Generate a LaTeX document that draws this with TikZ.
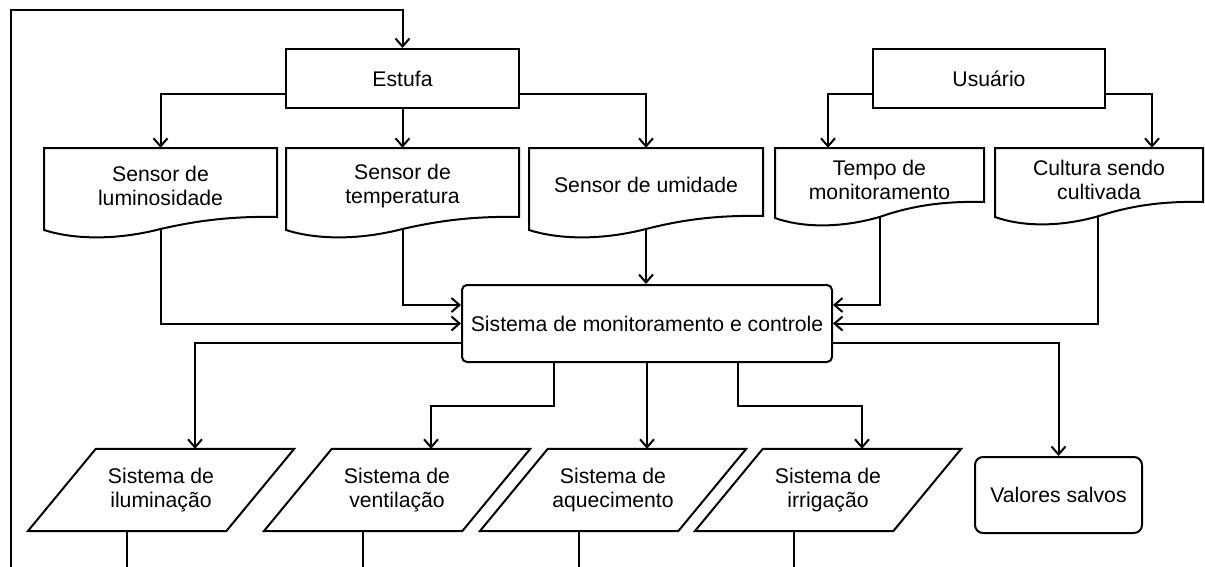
\documentclass[tikz,border=0pt]{standalone}
\usepackage{fontspec}
\setmainfont{Liberation Sans}
\usetikzlibrary{arrows.meta}
\pgfdeclarelayer{bg}\pgfdeclarelayer{mid}\pgfsetlayers{bg,mid,main}
% document outline: L R T Br Bl
\newcommand\docpath[5]{%
  \filldraw[shp] (#1,#3) -- (#2,#3) -- (#2,#4)
   .. controls ({#2-0.2*(#2-#1)},{#4-1}) and ({#1+0.65*(#2-#1)},{#4+4}) .. ({#1+0.5*(#2-#1)},{#5-1})
   .. controls ({#1+0.3*(#2-#1)},{#5+11}) and ({#1+0.12*(#2-#1)},{#5+9}) .. (#1,#5) -- cycle;}
\tikzset{
  ln/.style={line width=2pt, line join=miter},
  arr/.style={ln, -{Straight Barb[length=8pt,width=14pt]}},
  shp/.style={ln, draw=black, fill=white},
  boxs/.style={draw, fill=white, ln, align=center, inner sep=0pt},
  rbox/.style={boxs, rounded corners=5pt},
  doc/.style={align=center, inner sep=0pt},
  para/.style={align=center, inner sep=0pt, minimum width=198pt, minimum height=82pt},
}
\begin{document}
\begin{tikzpicture}[x=1pt,y=-1pt, font=\fontsize{21.2}{24}\selectfont]
\useasboundingbox (0,0) rectangle (1205,566);

% top boxes
\node[boxs, minimum width=233pt, minimum height=59pt] (estufa) at (402.5,78.5) {Estufa};
\node[boxs, minimum width=232pt, minimum height=59pt] (usr) at (989,78.5) {Usuário};

% documents
\node[doc, minimum width=233pt, minimum height=76pt] (d1) at (160.5,186) {Sensor de\\luminosidade};
\node[doc, minimum width=233pt, minimum height=76pt] (d2) at (402.5,186) {Sensor de\\temperatura};
\node[doc, minimum width=234pt, minimum height=74pt] (d3) at (646,185) {Sensor de umidade};
\node[doc, minimum width=209pt, minimum height=64pt] (d4) at (879.5,180) {Tempo de\\monitoramento};
\node[doc, minimum width=208pt, minimum height=64pt] (d5) at (1099,180) {Cultura sendo\\cultivada};

% central box
\node[rbox, minimum width=370pt, minimum height=77pt] (ctrl) at (647,323.5) {Sistema de monitoramento e controle};

% parallelograms
\node[para] (p1) at (161,490) {Sistema de\\iluminação};
\node[para] (p2) at (397,490) {Sistema de\\ventilação};
\node[para] (p3) at (613,490) {Sistema de\\aquecimento};
\node[para] (p4) at (828,490) {Sistema de\\irrigação};

\node[boxs, rounded corners=8pt, minimum width=167pt, minimum height=76pt] (vs) at (1058.5,495) {Valores salvos};

\coordinate (loopstart) at (11,570);
\coordinate (bot) at (0,570);

\begin{pgfonlayer}{mid}
\docpath{44}{277}{148}{217}{230}
\docpath{286}{519}{148}{217}{230}
\docpath{529}{763}{148}{216}{230}
\docpath{775}{984}{148}{202}{218}
\docpath{995}{1203}{148}{202}{217}
\foreach \p in {p1,p2,p3,p4}{
  \filldraw[shp] ([xshift=34pt]\p.north west) -- ([xshift=34pt]\p.north east)
     -- ([xshift=-34pt]\p.south east) -- ([xshift=-34pt]\p.south west) -- cycle;
}
\end{pgfonlayer}

\begin{pgfonlayer}{bg}
\fill[white] (0,0) rectangle (1205,566);
\draw[arr] (loopstart) |- ([yshift=38pt]estufa.north) -- (estufa.north);
\draw[arr] ([yshift=-15pt]estufa.west) -| (d1.north);
\draw[arr] (estufa.south) -- (d2.north);
\draw[arr] ([yshift=-15pt]estufa.east) -| (d3.north);
\draw[arr] ([yshift=-15pt]usr.west) -| ([xshift=-51.5pt]d4.north);
\draw[arr] ([yshift=-15pt]usr.east) -| ([xshift=53pt]d5.north);

\draw[arr] (d1.center) |- (ctrl.west);
\draw[arr] (d2.center) |- ([yshift=18.5pt]ctrl.west);
\draw[arr] (d3.center) -- (d3.center |- ctrl.north);
\draw[arr] (d4.center) |- ([yshift=18.5pt]ctrl.east);
\draw[arr] ([xshift=-1pt]d5.center) |- (ctrl.east);

\draw[arr] ([yshift=-19.5pt]ctrl.west) -| ([xshift=34pt]p1.north);
\draw[arr] ([xshift=-93pt]ctrl.south) -- ++(0,43) -| ([xshift=34pt]p2.north);
\draw[arr] (ctrl.south) -- ([xshift=34pt]p3.north);
\draw[arr] ([xshift=91pt]ctrl.south) -- ++(0,43) -| ([xshift=34pt]p4.north);
\draw[arr] ([yshift=-19.5pt]ctrl.east) -| (vs.north);

\draw[ln] ([xshift=-34pt]p1.south) -- ([xshift=-34pt]p1.south |- bot);
\draw[ln] ([xshift=-34pt]p2.south) -- ([xshift=-34pt]p2.south |- bot);
\draw[ln] ([xshift=-34pt]p3.south) -- ([xshift=-34pt]p3.south |- bot);
\draw[ln] ([xshift=-34pt]p4.south) -- ([xshift=-34pt]p4.south |- bot);
\end{pgfonlayer}
\end{tikzpicture}
\end{document}
